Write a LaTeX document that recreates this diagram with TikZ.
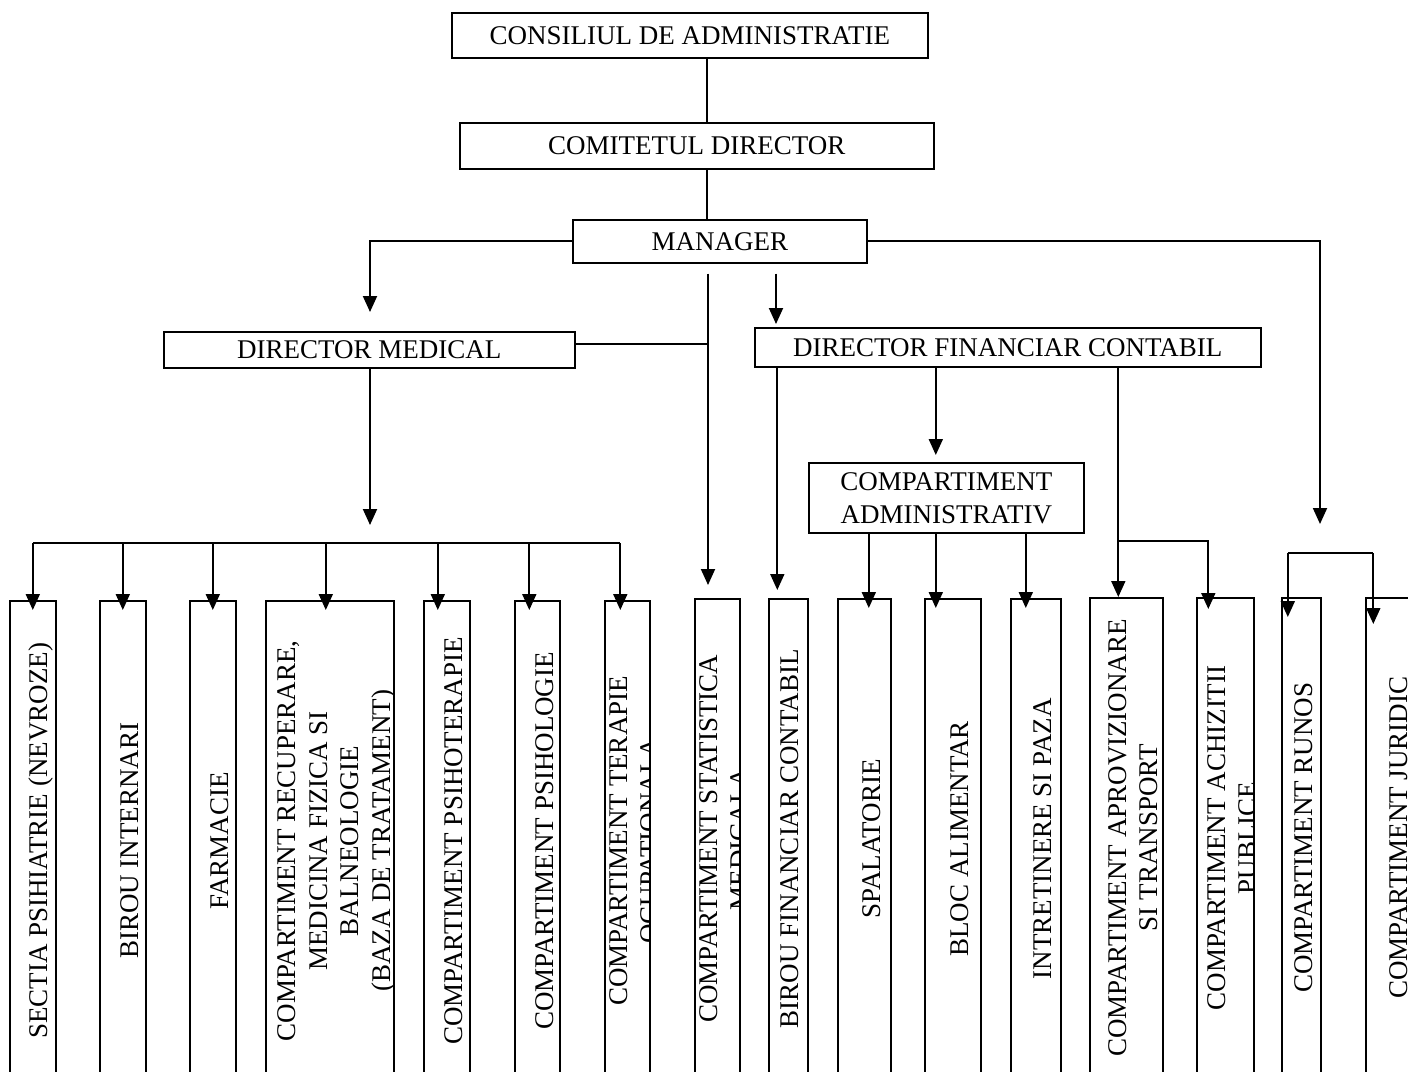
\documentclass[tikz,border=0pt]{standalone}
\usepackage{fontspec}
\setmainfont{Liberation Serif}
\usetikzlibrary{arrows.meta}
\newcommand\vbx[6]{%
  \node[vb, minimum width=#4pt] (#1) at (#2,#3) {};
  \begin{scope}
    \clip (#1.north west) rectangle (#1.south east);
    \node[vt] (#1t) at ([xshift=#5pt]#1.center) {#6};
  \end{scope}}
\begin{document}
\begin{tikzpicture}[x=1pt,y=-1pt,
  tbox/.style={draw, line width=1.6pt, inner sep=0pt, align=center,
    font=\fontsize{27}{33}\selectfont, anchor=north west},
  vb/.style={draw, line width=1.6pt, inner sep=0pt, anchor=north west,
    minimum height=480pt},
  vt/.style={rotate=90, align=center, inner sep=0pt,
    font=\fontsize{27}{31.5}\selectfont},
  conn/.style={line width=1.9pt},
  arr/.style={conn, -{Triangle[width=14pt,length=16pt]}}]
\useasboundingbox (0,0) rectangle (1408,1071);
\clip (0,0) rectangle (1408,1071);
\fill[white] (0,0) rectangle (1408,1071);

% upper boxes
\node[tbox, minimum width=476pt, minimum height=45pt] (cons) at (451,12) {CONSILIUL DE ADMINISTRATIE};
\node[tbox, minimum width=474pt, minimum height=46pt] (comit) at (459,122) {COMITETUL DIRECTOR};
\node[tbox, minimum width=294pt, minimum height=43pt] (mgr) at (572,219) {MANAGER};
\node[tbox, minimum width=411pt, minimum height=36pt] (dm) at (163,331) {DIRECTOR MEDICAL};
\node[tbox, minimum width=506pt, minimum height=39pt] (df) at (754,327) {DIRECTOR FINANCIAR CONTABIL};
\node[tbox, minimum width=275pt, minimum height=70pt] (ca) at (808,462) {COMPARTIMENT\\ADMINISTRATIV};

% lower boxes
\vbx{b1}{9}{600}{46}{8}{SECTIA PSIHIATRIE (NEVROZE)}
\vbx{b2}{99}{600}{46}{7}{BIROU INTERNARI}
\vbx{b3}{189}{600}{46}{7}{FARMACIE}
\vbx{b4}{265}{600}{128}{7}{COMPARTIMENT RECUPERARE,\\MEDICINA FIZICA SI\\BALNEOLOGIE\\(BAZA DE TRATAMENT)}
\vbx{b5}{423}{600}{46}{7}{COMPARTIMENT PSIHOTERAPIE}
\vbx{b6}{514}{600}{45}{7}{COMPARTIMENT PSIHOLOGIE}
\vbx{b7}{604}{600}{45}{7}{COMPARTIMENT TERAPIE\\OCUPATIONALA}
\vbx{b8}{694}{598}{45}{7}{COMPARTIMENT STATISTICA\\MEDICALA}
\vbx{b9}{768}{598}{39}{1}{BIROU FINANCIAR CONTABIL}
\vbx{b10}{837}{598}{53}{7}{SPALATORIE}
\vbx{b11}{924}{598}{56}{7}{BLOC ALIMENTAR}
\vbx{b12}{1010}{598}{50}{7}{INTRETINERE SI PAZA}
\vbx{b13}{1089}{597}{73}{7}{COMPARTIMENT APROVIZIONARE\\SI TRANSPORT}
\vbx{b14}{1196}{597}{57}{7}{COMPARTIMENT ACHIZITII\\PUBLICE}
\vbx{b15}{1281}{597}{39}{2}{COMPARTIMENT RUNOS}
\vbx{b16}{1365}{597}{55}{5}{COMPARTIMENT JURIDIC}

% helper coordinates
\coordinate (vx) at (707,0);
\coordinate (dmtip) at (370,312);
\coordinate (rtip) at (1320,524);
\coordinate (s0) at (708,0);
\coordinate (stip) at (708,585);
\coordinate (ftop) at (776,0);
\coordinate (medtip) at (370,525);
\coordinate (bus) at (0,543);
\coordinate (fbr) at (0,541);
\coordinate (rbr) at (0,553);
\coordinate (a1) at (b1.north);
\coordinate (a2) at (b2.north);
\coordinate (a3) at (b3.north);
\coordinate (a4) at ([xshift=-4pt]b4.north);
\coordinate (a5) at ([xshift=-9pt]b5.north);
\coordinate (a6) at ([xshift=-8pt]b6.north);
\coordinate (a7) at ([xshift=-7pt]b7.north);
\coordinate (a9) at ([xshift=-11pt]b9.north);
\coordinate (aca) at ([xshift=-10.5pt]ca.north);
\coordinate (a10) at ([xshift=4.5pt]b10.north);
\coordinate (a11) at ([xshift=-17pt]b11.north);
\coordinate (a12) at ([xshift=-10pt]b12.north);
\coordinate (a13) at ([xshift=-8pt]b13.north);
\coordinate (a14) at ([xshift=-17pt]b14.north);
\coordinate (a15) at ([xshift=-13.5pt]b15.north);
\coordinate (a16) at ([xshift=-20pt]b16.north);

% top chain
\draw[conn] (cons.south -| vx) -- (comit.north -| vx);
\draw[conn] (comit.south -| vx) -- (mgr.north -| vx);
\draw[arr] (mgr.west) -| (dmtip);
\draw[arr] (mgr.east) -| (rtip);
\draw[arr, shorten <=10pt] (mgr.south -| s0) -- (stip);
\draw[conn] ([yshift=6pt]dm.east) -- ([yshift=6pt]dm.east -| s0);
\draw[arr, shorten <=10pt, shorten >=3pt] (mgr.south -| ftop) -- (df.north -| ftop);

% medical branch
\draw[arr] (dm.south -| medtip) -- (medtip);
\draw[conn] (a1 |- bus) -- (a7 |- bus);
\foreach \a in {a1,a2,a3,a4,a5,a6,a7}
  \draw[arr] (\a |- bus) -- ([yshift=-10pt]\a);

% financial branch
\draw[arr] (df.south -| a9) -- ([yshift=8pt]a9);
\draw[arr] (df.south -| aca) -- ([yshift=7pt]aca);
\draw[arr] (df.south -| a13) -- (a13);
\draw[arr] (a13 |- fbr) -- (a14 |- fbr) -- ([yshift=-12pt]a14);
\foreach \a in {a10,a11,a12}
  \draw[arr] (ca.south -| \a) -- ([yshift=-10pt]\a);

% right branch
\draw[conn] (a15 |- rbr) -- (a16 |- rbr);
\draw[arr] (a15 |- rbr) -- ([yshift=-20pt]a15);
\draw[arr] (a16 |- rbr) -- ([yshift=-27pt]a16);
\end{tikzpicture}
\end{document}
